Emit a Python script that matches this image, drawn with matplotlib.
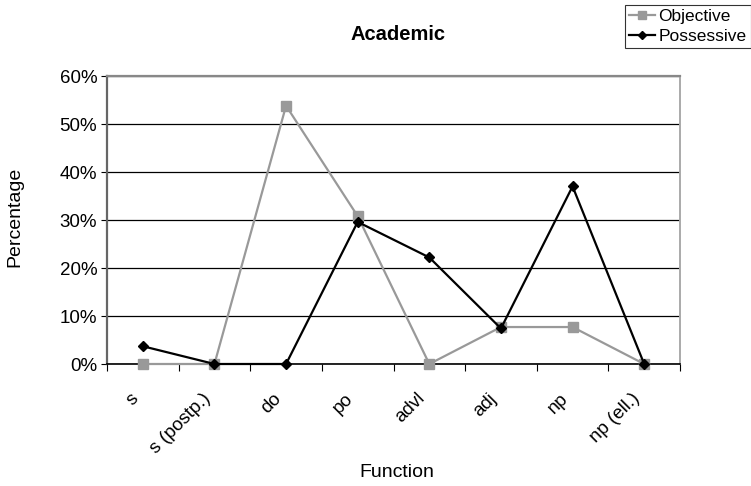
import numpy as np
import matplotlib
matplotlib.use("Agg")
import matplotlib.pyplot as plt
import matplotlib.transforms as mtransforms
from matplotlib.ticker import FuncFormatter, FixedLocator

plt.rcParams['font.family'] = ['Liberation Sans', 'DejaVu Sans']

# 数据
categories = ["s", "s (postp.)", "do", "po", "advl", "adj", "np", "np (ell.)"]
objective = [0.0, 0.0, 53.8, 30.8, 0.0, 7.7, 7.7, 0.0]
possessive = [3.7, 0.0, 0.0, 29.6, 22.2, 7.4, 37.0, 0.0]

fig = plt.figure(figsize=(7.51, 4.86), dpi=100)
ax = fig.add_axes([107 / 751, 1 - 364 / 486, 573 / 751, 288 / 486])

x = np.arange(len(categories))
l1, = ax.plot(x, objective, color="#999999", lw=1.6, marker="s", ms=6.5,
              label="Objective", zorder=3, clip_on=False)
l2, = ax.plot(x, possessive, color="black", lw=1.6, marker="D", ms=5,
              label="Possessive", zorder=4, clip_on=False)

ax.set_xlim(-0.5, len(categories) - 0.5)
ax.set_ylim(0, 60)
ax.set_yticks(range(0, 61, 10))
ax.yaxis.set_major_formatter(FuncFormatter(lambda v, p: f"{int(v)}%"))
ax.yaxis.grid(True, color="black", lw=0.9)
ax.set_axisbelow(True)

# 刻度在类别边界
ax.xaxis.set_major_locator(FixedLocator(np.arange(-0.5, len(categories), 1)))
ax.xaxis.set_major_formatter(FuncFormatter(lambda v, p: ""))
ax.xaxis.set_minor_locator(FixedLocator(x))
ax.set_xticklabels(categories, minor=True, rotation=45, ha="right",
                   va="center", rotation_mode="anchor", fontsize=13.5)
ax.tick_params(axis="x", which="minor", length=0, pad=15)
ax.tick_params(axis="x", which="major", direction="out", length=5,
               color="black")
ax.tick_params(axis="y", direction="out", length=4, labelsize=13.5, pad=3)

# 标签稍微左下移
off = mtransforms.ScaledTranslation(-5 / 72, -8 / 72, fig.dpi_scale_trans)
for lab in ax.get_xticklabels(minor=True):
    lab.set_transform(lab.get_transform() + off)

ax.spines["top"].set_color("#888888")
ax.spines["top"].set_linewidth(1.6)
ax.spines["right"].set_color("#aaaaaa")
ax.spines["right"].set_linewidth(1.4)
ax.spines["left"].set_color("#666666")
ax.spines["left"].set_linewidth(1.6)
ax.spines["bottom"].set_color("black")
ax.spines["bottom"].set_linewidth(1.2)

fig.text(398 / 751, 1 - 35 / 486, "Academic", ha="center", va="center",
         fontsize=14.5, fontweight="bold")
fig.text(15 / 751, 1 - 217 / 486, "Percentage", ha="center", va="center",
         rotation=90, fontsize=14)
fig.text(397 / 751, 1 - 472 / 486, "Function", ha="center", va="center",
         fontsize=14)

leg = fig.legend(handles=[l1, l2], loc="upper right",
                 bbox_to_anchor=(751 / 751, 1 - 5 / 486), fontsize=12.5,
                 frameon=True, fancybox=False, edgecolor="black",
                 handlelength=1.5, handletextpad=0.2, borderpad=0.25,
                 labelspacing=0.25, borderaxespad=0, markerscale=0.8)
leg.get_frame().set_linewidth(0.8)

fig.savefig("out.png", dpi=100)
